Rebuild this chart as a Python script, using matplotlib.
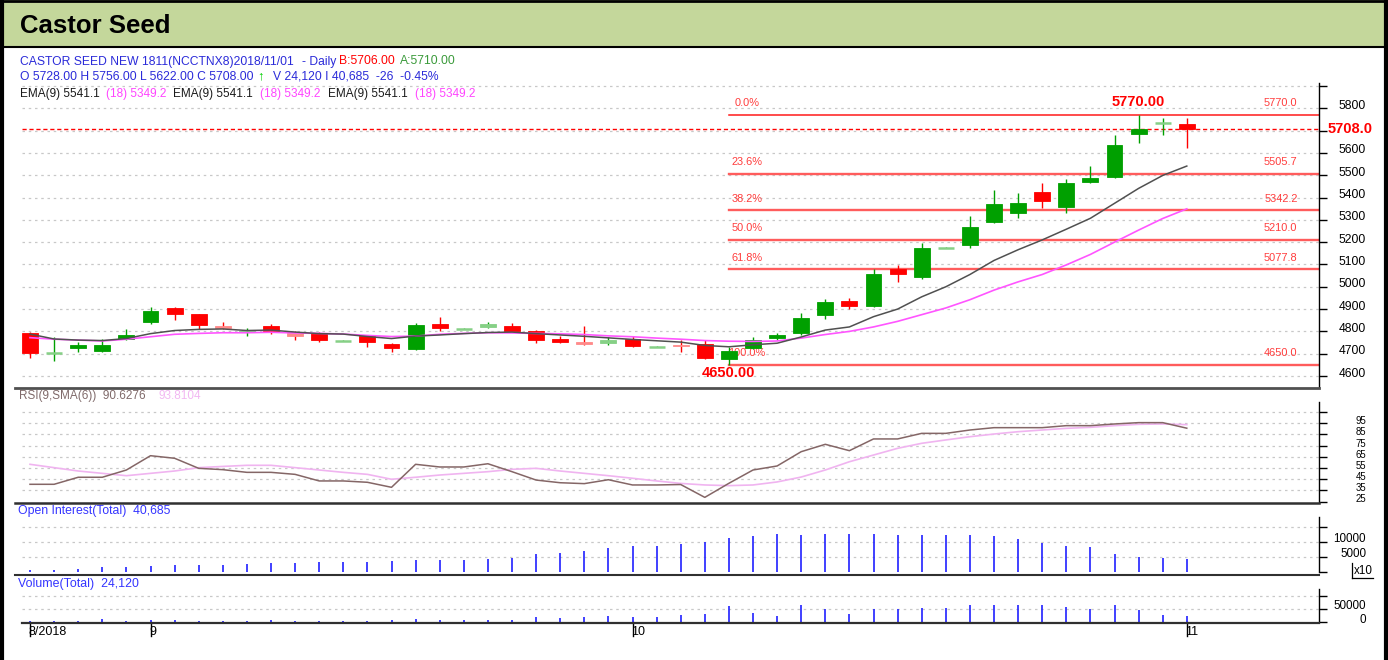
import matplotlib
matplotlib.use("Agg")
import matplotlib.pyplot as plt
from matplotlib.patches import Rectangle
from matplotlib.lines import Line2D
from matplotlib.transforms import blended_transform_factory as blend, ScaledTranslation

plt.rcParams['font.family'] = ['Liberation Sans', 'DejaVu Sans']

# ---------------- data ----------------
opens = [4792, 4702, 4724, 4711, 4767, 4841, 4904, 4877, 4824, 4796,
         4824, 4794, 4791, 4757, 4779, 4742, 4720, 4832, 4811, 4821,
         4826, 4803, 4767, 4751, 4749, 4766, 4731, 4739, 4742, 4675,
         4724, 4769, 4792, 4874, 4938, 4914, 5078, 5042, 5175, 5187,
         5289, 5329, 5425, 5359, 5468, 5493, 5683, 5733, 5728]
highs = [4796, 4776, 4754, 4765, 4809, 4908, 4908, 4877, 4841, 4817,
         4833, 4803, 4797, 4760, 4781, 4747, 4836, 4863, 4813, 4844,
         4836, 4805, 4779, 4824, 4774, 4779, 4733, 4761, 4761, 4729,
         4776, 4792, 4881, 4944, 4951, 5078, 5098, 5198, 5177, 5317,
         5434, 5419, 5467, 5483, 5541, 5680, 5770, 5755, 5756]
lows = [4680, 4668, 4709, 4709, 4761, 4832, 4851, 4809, 4811, 4779,
        4787, 4761, 4754, 4755, 4729, 4709, 4717, 4803, 4809, 4814,
        4800, 4747, 4749, 4739, 4739, 4731, 4729, 4709, 4675, 4650,
        4720, 4762, 4784, 4854, 4899, 4911, 5023, 5034, 5173, 5172,
        5287, 5307, 5355, 5332, 5464, 5486, 5643, 5679, 5622]
closes = [4705, 4702, 4738, 4738, 4783, 4893, 4878, 4830, 4815, 4800,
          4803, 4781, 4760, 4757, 4751, 4724, 4827, 4815, 4811, 4832,
          4802, 4761, 4751, 4744, 4761, 4736, 4731, 4735, 4679, 4713,
          4761, 4783, 4861, 4933, 4914, 5056, 5057, 5175, 5175, 5269,
          5371, 5376, 5386, 5464, 5489, 5636, 5709, 5733, 5708]
ema9 = [4788, 4766, 4761, 4759, 4768, 4790, 4804, 4809, 4811, 4804,
        4806, 4797, 4790, 4788, 4777, 4768, 4779, 4784, 4790, 4795,
        4797, 4790, 4784, 4778, 4771, 4764, 4758, 4752, 4737, 4731,
        4740, 4747, 4775, 4806, 4820, 4866, 4900, 4955, 5000, 5055,
        5118, 5166, 5210, 5258, 5307, 5374, 5441, 5499, 5541.1]
ema18 = [4772, 4765, 4761, 4757, 4765, 4776, 4787, 4791, 4794, 4794,
         4796, 4793, 4791, 4788, 4782, 4777, 4779, 4787, 4791, 4794,
         4793, 4791, 4789, 4786, 4780, 4776, 4770, 4765, 4759, 4756,
         4755, 4757, 4770, 4786, 4800, 4820, 4845, 4875, 4905, 4942,
         4985, 5022, 5055, 5098, 5145, 5200, 5254, 5306, 5349.2]
rsi = [40.4, 40.4, 46.7, 46.7, 53.2, 66.0, 63.7, 54.7, 53.5, 51.1,
       51.1, 49.3, 43.4, 43.4, 42.2, 37.7, 58.3, 55.9, 55.9, 58.8,
       51.7, 44.2, 41.8, 41.0, 44.5, 39.8, 39.8, 40.2, 28.7, 41.3,
       53.2, 56.8, 69.6, 76.2, 70.5, 81.0, 81.0, 86.0, 86.0, 89.0,
       91.1, 91.1, 91.1, 92.9, 92.9, 94.4, 95.6, 95.6, 90.63]
rsi_sma = [58.3, 55.3, 52.3, 50.2, 48.1, 50.2, 52.3, 55.3, 56.4, 57.4,
           57.4, 55.3, 53.2, 51.1, 49.3, 44.9, 46.7, 48.7, 50.2, 51.7,
           53.8, 54.7, 52.3, 50.2, 48.1, 45.8, 43.4, 41.2, 39.8, 39.2,
           39.8, 42.5, 46.9, 53.2, 60.6, 66.6, 72.6, 77.1, 80.1, 83.0,
           85.4, 87.5, 89.0, 90.5, 91.4, 92.9, 94.1, 94.4, 93.81]
open_interest = [5600, 5600, 8900, 15500, 15600, 20000, 22200, 22300, 22200, 26700,
                 28900, 28800, 32200, 32300, 32200, 35600, 38900, 38800, 38900, 43300,
                 45600, 58900, 63300, 68900, 78900, 85600, 85500, 92200, 98900, 112200,
                 118900, 125600, 122200, 125500, 125600, 125500, 122200, 122300, 122200, 122100,
                 118900, 107800, 96700, 85600, 81100, 58900, 48900, 45600, 40685]
volume = [6250, 5000, 5000, 13750, 6250, 10000, 10000, 6250, 6250, 6250,
          10000, 6250, 6250, 5000, 6250, 10000, 13750, 10000, 10000, 10000,
          10000, 21250, 15000, 21250, 25000, 18750, 18750, 28000, 31250, 61250,
          36250, 25000, 65000, 48750, 31250, 51250, 51250, 55000, 55000, 65000,
          65000, 65000, 65000, 58750, 51250, 65000, 47500, 27500, 24120]
date_tick_idx = [0, 5, 25, 48]
date_tick_labels = ['8/2018', '9', '10', '11']
fib_labels = ['0.0%', '23.6%', '38.2%', '50.0%', '61.8%', '100.0%']
fib_levels = [5770.0, 5505.7, 5342.2, 5210.0, 5077.8, 4650.0]
fib_start_idx = 29
price_ticks = [4600, 4700, 4800, 4900, 5000, 5100, 5200, 5300, 5400, 5500, 5600, 5700, 5800, 5900]
price_labels = ['4600', '4700', '4800', '4900', '5000', '5100', '5200', '5300', '5400', '5500', '5600', '', '5800', '']
rsi_ticks = [25, 35, 45, 55, 65, 75, 85, 95, 105]
rsi_labels = ['25', '35', '45', '55', '65', '75', '85', '95', '']
oi_ticks = [0, 5000, 10000, 15000]
oi_labels = ['', '5000', '10000', '']
vol_ticks = [0, 50000, 100000]
vol_labels = ['0', '50000', '']
last_close = 5708.0
high_val, high_idx = 5770.0, 46
low_val, low_idx = 4650.0, 29

# ---------------- layout helpers ----------------
W, H = 1388, 660
fig = plt.figure(figsize=(W / 100, H / 100), dpi=100)
fig.patch.set_facecolor('white')


def rect(x0, y0, x1, y1):
    return [x0 / W, 1 - y1 / H, (x1 - x0) / W, (y1 - y0) / H]


def fx(x):
    return x / W


def fy(y):
    return 1 - y / H


def off(dx, dy):
    return ScaledTranslation(dx / 100, dy / 100, fig.dpi_scale_trans)


def fline(x0, x1, y0, y1, color, lw):
    fig.add_artist(Line2D([fx(x0), fx(x1)], [fy(y0), fy(y1)], color=color, lw=lw,
                          transform=fig.transFigure))


X0, X1 = 22, 1319
SLOT, XC0 = 24.1, 30
XLIM = ((X0 - XC0) / SLOT, (X1 - XC0) / SLOT)
LABEL_R = 1366
n = len(closes)
xs = list(range(n))
GRID = dict(color='#c8c8c8', lw=0.9, ls=(0, (2, 3)), zorder=0)
BLUE = '#2b2bd9'


def style_axis(ax, ylim, ticks, labels, lblsize=8.7, lbl_dy=2.5):
    ax.set_xlim(XLIM)
    ax.set_ylim(ylim)
    ax.set_facecolor('none')
    for s in ['top', 'left', 'bottom']:
        ax.spines[s].set_visible(False)
    ax.spines['right'].set_color('black')
    ax.spines['right'].set_linewidth(1.0)
    ax.set_xticks([])
    ax.set_yticks(ticks)
    ax.tick_params(axis='y', left=False, right=True, labelleft=False, labelright=False,
                   length=6, width=1, direction='out', colors='black')
    xf = (LABEL_R - X0) / (X1 - X0)
    tr = blend(ax.transAxes, ax.transData) + off(0, lbl_dy)
    for v, lab in zip(ticks, labels):
        if lab:
            ax.text(xf, v, lab, transform=tr, ha='right', va='center', fontsize=lblsize,
                    color='black', clip_on=False)


# ---------------- frame / title ----------------
fig.add_artist(Rectangle((0, fy(47)), 1, 47 / H, transform=fig.transFigure,
                         facecolor='#c4d79b', edgecolor='none', zorder=0))
fline(0, W, 47, 47, 'black', 1.5)
fline(0, W, 1, 1, 'black', 2)
fline(2, 2, 0, H, 'black', 3)
fline(1386, 1386, 0, H, 'black', 3)
fig.text(fx(20), fy(26), 'Castor Seed', fontsize=18.5, fontweight='bold', color='black',
         va='center', ha='left')

# header lines
HF = 8.75
fig.text(fx(19.5), fy(61.5), 'CASTOR SEED NEW 1811(NCCTNX8)2018/11/01', fontsize=HF, color=BLUE, va='center')
fig.text(fx(301.5), fy(61.5), '- Daily', fontsize=HF, color=BLUE, va='center')
fig.text(fx(338.5), fy(61.5), 'B:5706.00', fontsize=HF, color='#ff0000', va='center')
fig.text(fx(400), fy(61.5), 'A:5710.00', fontsize=HF, color='#3a9a3a', va='center')
fig.text(fx(19.5), fy(76.5), 'O 5728.00 H 5756.00 L 5622.00 C 5708.00', fontsize=HF, color=BLUE, va='center')
fig.text(fx(257), fy(76.5), '\u2191', fontsize=9.5, color='#00d000', va='center')
fig.text(fx(273), fy(76.5), 'V 24,120 I 40,685  -26  -0.45%', fontsize=HF, color=BLUE, va='center')
for x9, x18 in [(19.5, 106), (173, 260), (328, 415)]:
    fig.text(fx(x9), fy(94), 'EMA(9) 5541.1', fontsize=8.5, color='#1a1a1a', va='center')
    fig.text(fx(x18), fy(94), '(18) 5349.2', fontsize=8.5, color='#ff44ff', va='center')

# ---------------- main price panel ----------------
PY0, PY1 = 83, 387
def price_at(y):
    return 5800 - (y - 108.3) / 0.2231

ax = fig.add_axes(rect(X0, PY0, X1, PY1))
style_axis(ax, (price_at(PY1), price_at(PY0)), price_ticks, price_labels)
for v in price_ticks:
    ax.axhline(v, **GRID)

# fibonacci retracement
for k, (lab, lvl) in enumerate(zip(fib_labels, fib_levels)):
    if k == 0:
        ax.plot([fib_start_idx, XLIM[1]], [lvl, lvl], color='#ff1a1a', lw=1.1, zorder=1)
    else:
        ax.plot([fib_start_idx, XLIM[1]], [lvl, lvl], color='#ff5c5c', lw=1.7, zorder=1)
    ax.annotate(lab, (fib_start_idx + 0.75, lvl), xytext=(0, 8.3), textcoords='offset points',
                ha='center', va='center', fontsize=7.9, color='#ff3c3c', zorder=2)
    ax.annotate('%.1f' % lvl, (51.9, lvl), xytext=(0, 8.3), textcoords='offset points',
                ha='center', va='center', fontsize=7.9, color='#ff3c3c', zorder=2)

ax.axhline(last_close, color='#ff0000', lw=1.0, ls=(0, (3, 2)), zorder=2)

# candles
for i in xs:
    o, h, l, c = opens[i], highs[i], lows[i], closes[i]
    up = c >= o
    base = '#00a000' if up else '#ff0000'
    light = '#86d086' if up else '#ff8a8a'
    ax.plot([i, i], [l, h], color=base, lw=1.0, zorder=3, solid_capstyle='butt')
    if c == o:
        ax.plot([i - 0.33, i + 0.33], [o, o], color=light, lw=1.8, zorder=4,
                solid_capstyle='butt')
    else:
        col = light if abs(c - o) < 13.5 else base
        ax.add_patch(Rectangle((i - 0.33, min(o, c)), 0.66, abs(c - o), facecolor=col,
                               edgecolor=col, lw=0.6, zorder=4))

ax.plot(xs, ema18, color='#ff55ff', lw=1.2, zorder=5)
ax.plot(xs, ema9, color='#505050', lw=1.1, zorder=6)

ax.annotate('%.2f' % high_val, (high_idx, high_val), xytext=(0, 9.4), textcoords='offset points',
            ha='center', va='center', fontsize=10.5, fontweight='bold', color='#ff0000', zorder=7)
ax.annotate('%.2f' % low_val, (low_idx, low_val), xytext=(0, -6.0), textcoords='offset points',
            ha='center', va='center', fontsize=10.5, fontweight='bold', color='#ff0000', zorder=7)
fig.text(fx(1328), fy(128.8), '5708.0', fontsize=10.5, fontweight='bold', color='#ff0000', va='center')

# ---------------- RSI panel ----------------
RY0, RY1 = 402, 501.5
ax_r = fig.add_axes(rect(X0, RY0, X1, RY1))
style_axis(ax_r, (25, 25 + (RY1 - RY0) / 1.117), rsi_ticks, rsi_labels, lblsize=6.9, lbl_dy=2.0)
for v in rsi_ticks[1:]:
    ax_r.axhline(v, **GRID)
ax_r.plot(xs, rsi_sma, color='#f0b4f0', lw=1.2, zorder=3)
ax_r.plot(xs, rsi, color='#846666', lw=1.1, zorder=4)
fig.text(fx(19), fy(396.5), 'RSI(9,SMA(6))  90.6276', fontsize=8.5, color='#806a6a', va='center')
fig.text(fx(158.5), fy(396.5), '93.8104', fontsize=8.5, color='#f2b8f2', va='center')

# ---------------- Open interest panel ----------------
OY0, OY1 = 517.3, 571.7
ax_o = fig.add_axes(rect(X0, OY0, X1, OY1))
style_axis(ax_o, (0, (OY1 - OY0) / 15 * 5000), oi_ticks, oi_labels, lblsize=8.4, lbl_dy=2.5)
for v in oi_ticks[1:]:
    ax_o.axhline(v, **GRID)
ax_o.vlines(xs, 0, [v / 10 for v in open_interest], color='#2020ff', lw=1.2, zorder=3)
fig.text(fx(18.5), fy(511), 'Open Interest(Total)  40,685', fontsize=8.8, color='#3535ff', va='center')
fig.text(fx(1353.5), fy(570.5), 'x10', fontsize=8.4, color='black', va='center')
fline(1351.5, 1351.5, 563, 577.5, 'black', 0.9)
fline(1351.5, 1373, 577.5, 577.5, 'black', 0.9)

# ---------------- Volume panel ----------------
VY0, VY1 = 589.3, 622.3
ax_v = fig.add_axes(rect(X0, VY0, X1, VY1))
style_axis(ax_v, (0, (VY1 - VY0) / 13.33 * 50000), vol_ticks, vol_labels, lblsize=8.4, lbl_dy=2.5)
for v in vol_ticks[1:]:
    ax_v.axhline(v, **GRID)
ax_v.vlines(xs, 0, volume, color='#2020ff', lw=1.2, zorder=3)
fig.text(fx(18.5), fy(583.5), 'Volume(Total)  24,120', fontsize=8.9, color='#3535ff', va='center')

# date axis
tr_x = blend(ax_v.transData, ax_v.transAxes)
for i, lab in zip(date_tick_idx, date_tick_labels):
    ax_v.plot([i, i], [0, -13.5 / (VY1 - VY0)], transform=tr_x, color='black', lw=1.0,
              clip_on=False)
    ax_v.text(i, -10 / (VY1 - VY0), lab, transform=tr_x + off(-1.5, 0), ha='left', va='center',
              fontsize=9, color='black', clip_on=False)

# panel separators
fline(15, X1, 387.5, 387.5, '#505050', 2.0)
fline(15, X1, 502.5, 502.5, '#303030', 1.8)
fline(15, X1, 574.5, 574.5, '#303030', 1.5)
fline(22, X1, 622.5, 622.5, '#303030', 1.6)

fig.savefig('out.png', dpi=100, facecolor='white')
